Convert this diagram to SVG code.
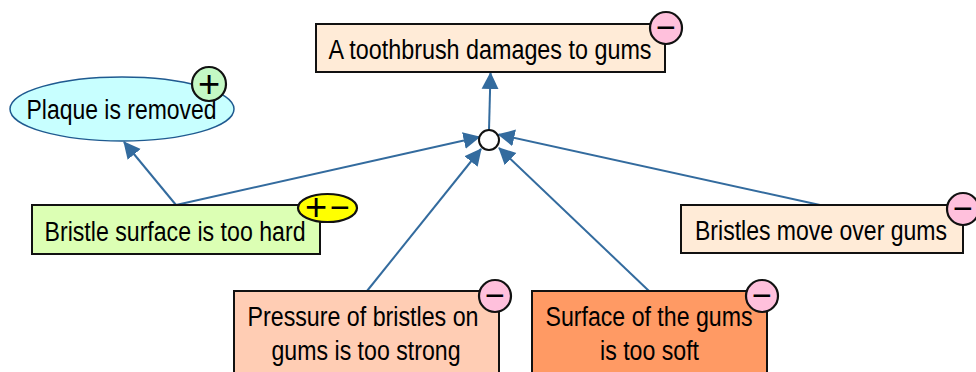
<svg xmlns="http://www.w3.org/2000/svg" width="976" height="372" viewBox="0 0 976 372">
<style>
.n{stroke:#111;stroke-width:2}
.t{font-family:"Liberation Sans",Arial,sans-serif;font-size:27px;fill:#000}
.b{stroke:#111;stroke-width:2.2}
.s{font-family:"Liberation Sans",Arial,sans-serif;font-size:34px;fill:#000;text-anchor:middle}
.p{font-family:"Liberation Sans",Arial,sans-serif;font-size:38px;fill:#000;text-anchor:middle}
.c{fill:none;stroke:#336b9e;stroke-width:2;marker-end:url(#a)}
</style>
<defs><marker id="a" markerUnits="userSpaceOnUse" markerWidth="18" markerHeight="18" refX="16" refY="9" orient="auto"><path d="M0 0.500L17 9L0 17.500Z" fill="#336b9e"/></marker></defs>
<g id="connectors">
<path class="c" d="M489 130L490.500 73"/>
<path class="c" d="M176 205L124 142"/>
<path class="c" d="M176 205L479.500 137"/>
<path class="c" d="M367 291L481 149"/>
<path class="c" d="M649 291L499 148"/>
<path class="c" d="M820 205L498.500 134.500"/>
</g>
<g id="n1"><rect class="n" x="316" y="24" width="349" height="48" fill="#ffebd7"/><text class="t" x="328.500" y="59" textLength="323" lengthAdjust="spacingAndGlyphs">A toothbrush damages to gums</text><circle class="b" cx="666" cy="28" r="16" fill="#ffc0dc"/><text class="s" x="666" y="39">−</text></g>
<g id="n2"><ellipse cx="122" cy="109" rx="112" ry="32" fill="#c8ffff" stroke="#1f5a90" stroke-width="1.500"/><text class="t" x="26.500" y="119" textLength="190" lengthAdjust="spacingAndGlyphs">Plaque is removed</text><circle class="b" cx="209" cy="84" r="17" fill="#c4f8c4"/><text class="p" x="209" y="97">+</text></g>
<g id="n3"><rect class="n" x="32" y="205" width="288" height="49" fill="#dcffb4"/><text class="t" x="44.500" y="241" textLength="261" lengthAdjust="spacingAndGlyphs">Bristle surface is too hard</text><ellipse class="b" cx="327.500" cy="208" rx="29.500" ry="14" fill="#ffff00"/><text class="p" x="316" y="220">+</text><text class="s" x="340" y="219">−</text></g>
<g id="n4"><rect class="n" x="681" y="205" width="282" height="48" fill="#ffebd7"/><text class="t" x="695" y="240" textLength="252" lengthAdjust="spacingAndGlyphs">Bristles move over gums</text><circle class="b" cx="963" cy="209" r="16" fill="#ffc0dc"/><text class="s" x="963" y="220">−</text></g>
<g id="n5"><rect class="n" x="234" y="291" width="265" height="90" fill="#ffcdb4"/><text class="t" x="247.500" y="326" textLength="231" lengthAdjust="spacingAndGlyphs">Pressure of bristles on</text><text class="t" x="271.500" y="360" textLength="189" lengthAdjust="spacingAndGlyphs">gums is too strong</text><circle class="b" cx="495" cy="296" r="16" fill="#ffc0dc"/><text class="s" x="495" y="307">−</text></g>
<g id="n6"><rect class="n" x="532" y="291" width="235" height="90" fill="#ff9a64"/><text class="t" x="545.500" y="326" textLength="207" lengthAdjust="spacingAndGlyphs">Surface of the gums</text><text class="t" x="600" y="360" textLength="99" lengthAdjust="spacingAndGlyphs">is too soft</text><circle class="b" cx="762" cy="296" r="16" fill="#ffc0dc"/><text class="s" x="762" y="307">−</text></g>
<g id="n7"><circle cx="489" cy="140" r="10" fill="#fff" stroke="#111" stroke-width="2"/></g>
</svg>
